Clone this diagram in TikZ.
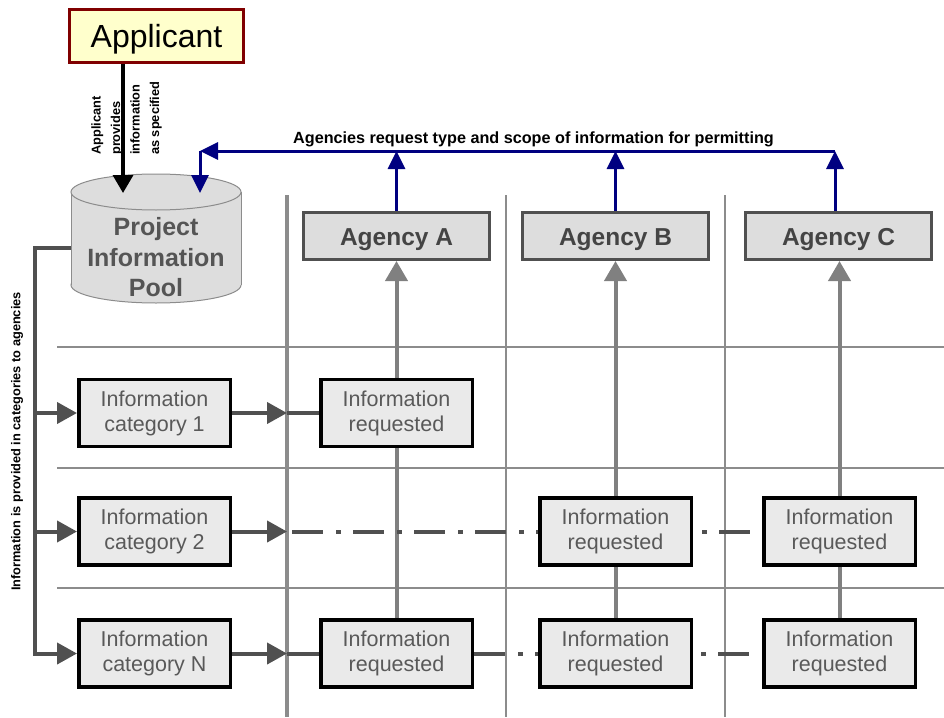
\documentclass[tikz,border=0pt]{standalone}
\usepackage{fontspec}
\setmainfont{Liberation Sans}
\usetikzlibrary{arrows.meta,backgrounds}
\definecolor{navyline}{RGB}{0,0,128}
\definecolor{darkline}{RGB}{80,80,80}
\definecolor{gridgray}{RGB}{140,140,140}
\definecolor{arrowgray}{RGB}{128,128,128}
\definecolor{appfill}{RGB}{255,255,204}
\definecolor{appborder}{RGB}{128,0,0}
\definecolor{agfill}{RGB}{221,221,221}
\definecolor{agborder}{RGB}{80,80,80}
\definecolor{agtext}{RGB}{68,68,68}
\definecolor{boxfill}{RGB}{234,234,234}
\definecolor{boxtext}{RGB}{89,89,89}
\definecolor{poolfill}{RGB}{221,221,221}
\definecolor{poolborder}{RGB}{140,140,140}
\definecolor{pooltext}{RGB}{85,85,85}
\tikzset{
  infobox/.style={draw=black, line width=3.5pt, fill=boxfill, text=boxtext,
    minimum width=151.5pt, minimum height=67pt, align=center, inner sep=0pt,
    execute at begin node={\rule{0pt}{21pt}},
    font=\fontsize{21.5}{25}\selectfont},
  agencybox/.style={draw=agborder, line width=3pt, fill=agfill, text=agtext,
    minimum width=186pt, minimum height=47pt, inner sep=0pt,
    text height=18.5pt, text depth=0pt,
    font=\bfseries\fontsize{24.5}{28}\selectfont},
  gridline/.style={draw=gridgray, line width=2pt},
  darkconn/.style={draw=darkline, line width=4pt},
  darkarrow/.style={darkconn, -{Triangle[length=20pt,width=21pt]}},
  dashdotline/.style={dash pattern=on 31pt off 13pt on 5pt off 12pt},
  grayarrow/.style={draw=arrowgray, line width=4pt, -{Triangle[length=20pt,width=22pt]}},
  bluearrow/.style={draw=navyline, line width=3pt, -{Triangle[length=18pt,width=17pt]}},
  blackarrow/.style={draw=black, line width=3.5pt, -{Triangle[length=18pt,width=20pt]}},
}
\begin{document}
\begin{tikzpicture}[x=1pt,y=-1pt]
\useasboundingbox (0,0) rectangle (944,717);

% nodes
\node[draw=appborder, line width=3pt, fill=appfill, minimum width=174pt, minimum height=53pt,
  inner sep=0pt, text height=23pt, text depth=0pt, font=\fontsize{32}{36}\selectfont] (applicant) at (156.5,36) {Applicant};
\node[align=center, text=pooltext, inner sep=0pt, font=\bfseries\fontsize{25}{30.5}\selectfont]
  (pool) at (156,257.5) {Project\\Information\\Pool};
\node[agencybox] (agA) at (396.5,236) {Agency A};
\node[agencybox] (agB) at (615.5,236) {Agency B};
\node[agencybox] (agC) at (838.5,236) {Agency C};

\node[infobox] (cat1) at (154.5,413) {Information\\category 1};
\node[infobox] (cat2) at (154.5,531.5) {Information\\category 2};
\node[infobox] (catN) at (154.5,653.5) {Information\\category N};

\node[infobox] (reqA1) at (396.5,413) {Information\\requested};
\node[infobox] (reqB2) at (615.5,531.5) {Information\\requested};
\node[infobox] (reqC2) at (839.5,531.5) {Information\\requested};
\node[infobox] (reqAN) at (396.5,653.5) {Information\\requested};
\node[infobox] (reqBN) at (615.5,653.5) {Information\\requested};
\node[infobox] (reqCN) at (839.5,653.5) {Information\\requested};

\node[rotate=90, anchor=west, align=left, inner sep=0pt,
  font=\bfseries\fontsize{12.8}{19.5}\selectfont] (applbl) at (126.5,155) {Applicant\\provides\\information\\as specified};
\node[rotate=90, inner sep=0pt, font=\bfseries\fontsize{12.8}{15}\selectfont] (catlbl) at (17,441.5)
  {Information is provided in categories to agencies};
\node[anchor=base, inner sep=0pt, font=\bfseries\fontsize{16.2}{19}\selectfont] (toplbl) at (533.5,143)
  {Agencies request type and scope of information for permitting};

\coordinate (poolapp) at (123,193);
\coordinate (poolin) at (200,193);
\coordinate (poolout) at (71,248);
\coordinate (bus) at (35,248);
\coordinate (colA) at (287,0);
\coordinate (corner) at (200,151);
\coordinate (cblue) at ([xshift=-3.5pt]agC.north);

\begin{pgfonlayer}{background}
% cylinder
\draw[poolborder, fill=poolfill, line width=1pt] (156,285) ellipse [x radius=85pt, y radius=18pt];
\fill[poolfill] (71,192) rectangle (241,285);
\draw[poolborder, line width=1pt] (71,192) -- (71,285) (241,192) -- (241,285);
\draw[poolborder, fill=poolfill, line width=1pt] (156,192) ellipse [x radius=85pt, y radius=18pt];

% grid
\draw[gridline] (57,347) -- (944,347);
\draw[gridline] (57,468) -- (944,468);
\draw[gridline] (57,588) -- (944,588);
\draw[gridline, line width=4.5pt] (287,195) -- (287,717);
\draw[gridline] (506,195) -- (506,717);
\draw[gridline] (725,195) -- (725,717);

% gray up arrows
\draw[grayarrow] (reqAN.north) -- (agA.south);
\draw[grayarrow] (reqBN.north) -- (agB.south);
\draw[grayarrow] (reqCN.north) -- (reqCN.north |- agC.south);

% pool to categories
\draw[darkarrow] (poolout) -- (bus) -- (bus |- catN.west) -- (catN.west);
\draw[darkarrow] (bus |- cat1.west) -- (cat1.west);
\draw[darkarrow] (bus |- cat2.west) -- (cat2.west);

% categories to column
\draw[darkarrow] (cat1.east) -- (cat1.east -| colA);
\draw[darkarrow] (cat2.east) -- (cat2.east -| colA);
\draw[darkarrow] (catN.east) -- (catN.east -| colA);
\draw[darkconn] (cat1.east -| colA) -- (reqA1.west);
\draw[darkconn, dashdotline] ([xshift=5pt]cat2.east -| colA) -- (reqC2.west);
\draw[darkconn] (catN.east -| colA) -- (reqAN.west);
\draw[darkconn, dashdotline] (reqAN.east) -- (reqCN.west);

% blue requests
\draw[bluearrow] (agA.north) -- (agA.north |- corner);
\draw[bluearrow] (agB.north) -- (agB.north |- corner);
\draw[bluearrow] (cblue) -- (cblue |- corner);
\draw[bluearrow] (cblue |- corner) -- (corner);
\draw[bluearrow] (corner) -- (poolin);

% applicant to pool
\draw[blackarrow] (applicant.south -| poolapp) -- (poolapp);
\end{pgfonlayer}
\end{tikzpicture}
\end{document}
